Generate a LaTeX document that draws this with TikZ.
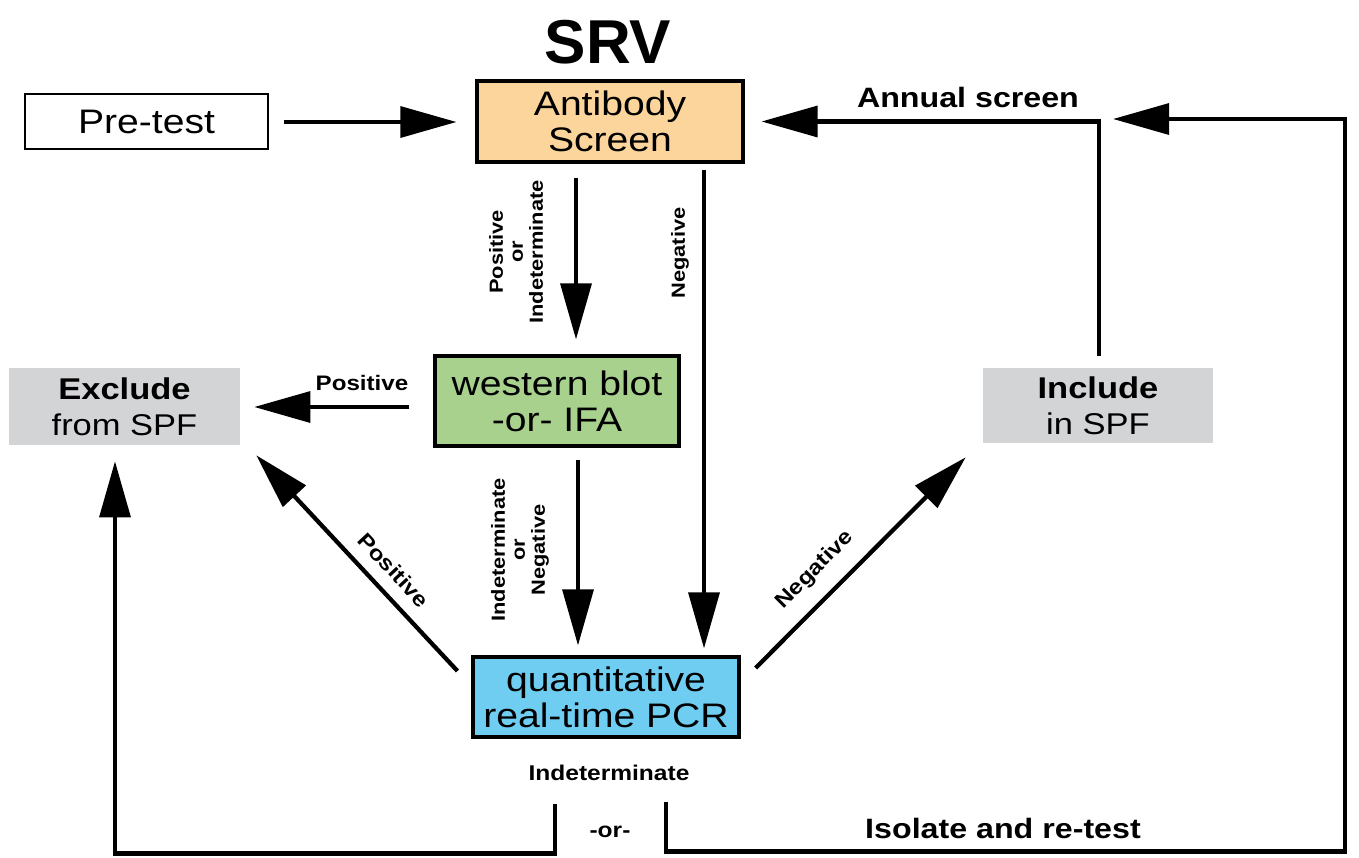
\documentclass[tikz,border=0pt]{standalone}
\usepackage{fontspec}
\setmainfont{Liberation Sans}[FakeStretch=1.15]
\newfontfamily\titlefont{Liberation Sans}
\usetikzlibrary{arrows.meta,calc}
\definecolor{abfill}{HTML}{FBD59B}
\definecolor{wbfill}{HTML}{A8D18D}
\definecolor{pcrfill}{HTML}{70CDF2}
\definecolor{grayfill}{HTML}{D3D4D6}
\tikzset{
  box/.style={draw=black, line width=2.3pt, inner sep=0pt, align=center,
    font=\fontsize{25.5pt}{27pt}\selectfont},
  gbox/.style={fill=grayfill, inner sep=0pt, align=center,
    font=\fontsize{22.5pt}{27pt}\selectfont},
  arr/.style={line width=3.2pt, -{Triangle[length=42pt,width=23pt]}},
  plain/.style={line width=3.2pt},
  lab/.style={font=\bfseries\fontsize{15.75pt}{17pt}\selectfont, inner sep=0pt},
  vlab/.style={font=\bfseries\fontsize{14.25pt}{15pt}\selectfont, inner sep=0pt, align=center, rotate=90},
  biglab/.style={font=\bfseries\fontsize{21pt}{23pt}\selectfont, inner sep=0pt}
}
\begin{document}
\begin{tikzpicture}[x=0.75pt,y=-0.75pt]
\useasboundingbox (0,0) rectangle (1359,857);
\node[font=\titlefont\bfseries\fontsize{46.5pt}{50pt}\selectfont, inner sep=0pt] (title) at (608,42) {SRV};
\node[box, fill=white, line width=2pt, minimum width={243*0.75pt}, minimum height={55*0.75pt}] (pretest) at (146.5,121.5) {Pre-test};
\node[box, fill=abfill, minimum width={266*0.75pt}, minimum height={81*0.75pt}] (antibody) at (610,121.5) {Antibody\\Screen};
\node[box, fill=wbfill, minimum width={244*0.75pt}, minimum height={90*0.75pt}] (wb) at (557,401) {western blot\\-or- IFA};
\node[box, fill=pcrfill, minimum width={266*0.75pt}, minimum height={80*0.75pt}] (qpcr) at (606,697) {quantitative\\real-time PCR};
\node[gbox, minimum width={231*0.75pt}, minimum height={77*0.75pt}] (excl) at (124.5,406.5) {\textbf{Exclude}\\from SPF};
\node[gbox, minimum width={230*0.75pt}, minimum height={75*0.75pt}] (incl) at (1098,405.5) {\textbf{Include}\\in SPF};

\coordinate (rc) at (1345,119);
\coordinate (rtip) at (1113,119);

\draw[arr] ($(pretest.east)+(15,0.5)$) -- ($(antibody.west)+(-19,0.5)$);
\draw[arr] ($(antibody.south)+(-34,14)$) -- ($(wb.north)+(19,-15)$);
\draw[arr] ($(antibody.south)+(94,6)$) -- ($(qpcr.north)+(98,-7)$);
\draw[arr] ($(wb.west)+(-24,6)$) -- ($(excl.east)+(14,0.5)$);
\draw[arr] ($(wb.south)+(21,12)$) -- ($(qpcr.north)+(-28,-10)$);
\draw[arr] ($(qpcr.west)+(-14,-26)$) -- ($(excl.south east)+(16,10)$);
\draw[arr] ($(qpcr.east)+(15,-29)$) -- ($(incl.south west)+(-17,14)$);
\draw[arr] ($(incl.north)+(1,-12)$) |- ($(antibody.east)+(17,0)$);
\draw[arr] ($(qpcr.south)+(-51,65)$) -- ++(0,50) -| ($(excl.south)+(-9.5,16)$);
\draw[arr] ($(qpcr.south)+(60,63)$) -- ++(0,50) -| (rc) -- (rtip);

\node[vlab] (l1) at (516,252) {Positive\\or\\Indeterminate};
\node[vlab] (l2) at (680,253) {Negative};
\node[lab] (l3) at (362,383) {Positive};
\node[vlab] (l4) at (520,550) {Indeterminate\\or\\Negative};
\node[lab, rotate=-47] (l5) at (394,570) {Positive};
\node[lab, rotate=45] (l6) at (815,570) {Negative};
\node[biglab] (l7) at (968,97) {Annual screen};
\node[lab, font=\bfseries\fontsize{16pt}{17pt}\selectfont] (l8) at (609,773) {Indeterminate};
\node[lab, font=\bfseries\fontsize{16pt}{17pt}\selectfont] (l9) at (610,832) {-or-};
\node[biglab] (l10) at (1003,828) {Isolate and re-test};
\end{tikzpicture}
\end{document}
